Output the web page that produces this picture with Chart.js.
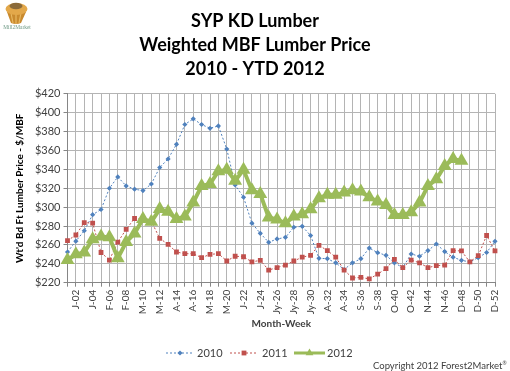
<!DOCTYPE html>
<html>
<head>
<meta charset="utf-8">
<title>SYP KD Lumber</title>
<script src="https://cdn.jsdelivr.net/npm/chart.js@4/dist/chart.umd.js"></script>
<style>
    html, body { margin: 0; padding: 0; background: #fff; }
    #wrap { position: relative; width: 510px; height: 371px; overflow: hidden; }
    #chart { display: block; }
    #logo { position: absolute; left: 0; top: 0; }
    #copyright { position: absolute; left: 373px; top: 360px; font: 9.5px Lato, sans-serif; color: #404040; white-space: nowrap; }
    #copyright sup { font-size: 5px; line-height: 0; }
</style>
</head>
<body>
<div id="wrap">
    <canvas id="chart" width="510" height="371"></canvas>
    <svg id="logo" width="36" height="34" viewBox="0 0 36 34">
        <path d="M7 12 L11 23 Q16 25 21 23 L26 12 Z" fill="#c98a2e"/>
        <path d="M11 13 L13 23 M16 13 L16 24 M21 13 L19 23" stroke="#e8b860" stroke-width="1.2"/>
        <ellipse cx="16.5" cy="9" rx="11" ry="6" fill="#e3a84a"/>
        <ellipse cx="16" cy="6" rx="6.5" ry="3.2" fill="#8a6a3a"/>
        <text x="17" y="29" text-anchor="middle" font-family="Liberation Serif, serif" font-size="5.4" fill="#6f9a86">Mill2Market</text>
    </svg>
    <div id="copyright">Copyright 2012 Forest2Market<sup>®</sup></div>
</div>
<script>
const categories = [
    'J-01', 'J-02', 'J-03', 'J-04', 'F-05', 'F-06', 'F-07', 'F-08', 'M-09', 'M-10', 'M-11', 'M-12', 'A-13',
    'A-14', 'A-15', 'A-16', 'M-17', 'M-18', 'M-19', 'M-20', 'J-21', 'J-22', 'J-23', 'J-24', 'Jy-25', 'Jy-26',
    'Jy-27', 'Jy-28', 'Jy-29', 'Jy-30', 'A-31', 'A-32', 'A-33', 'A-34', 'S-35', 'S-36', 'S-37', 'S-38', 'O-39',
    'O-40', 'O-41', 'O-42', 'N-43', 'N-44', 'N-45', 'N-46', 'D-47', 'D-48', 'D-49', 'D-50', 'D-51', 'D-52'
];
const values2010 = [
    252.5, 264, 275, 292, 297.5, 320, 332, 322.5, 319, 317.5, 324.5, 342, 351,
    366.5, 387.5, 393.5, 387.5, 383.5, 386, 361.5, 323.5, 310.5, 283, 272.3, 262.8, 266.3,
    268, 278.7, 279.7, 270, 245.8, 245.4, 241, 234, 241, 245.4, 256.7, 251.8, 249,
    241, 236, 250.4, 248, 254, 261, 253, 247, 243.7, 242, 246.5, 252, 263.8
];
const values2011 = [
    264.5, 270.5, 283.6, 283, 252, 244, 263, 276.5, 288, 288, 285, 267, 260.5,
    252.5, 250.7, 250.7, 246.5, 250, 250.7, 243, 248, 247.5, 242, 243.7, 233.4, 236,
    238.7, 243, 247, 249, 259.6, 254, 247, 233.4, 225, 225.6, 224, 229, 235,
    244.7, 236, 244, 241, 236, 238, 238.7, 254, 253.6, 242, 248.6, 270, 253.6
];
const values2012 = [
    244, 250, 252, 266, 269, 268, 246, 263, 272, 287.5, 284.5, 298, 295,
    287.5, 290, 305, 322.5, 324.5, 338, 339.5, 328, 339.5, 318, 314, 289, 287,
    283, 290, 292.5, 297.7, 309.4, 313, 313, 315.4, 318, 316.5, 310.5, 305.9, 302.3,
    291.7, 291.7, 294.5, 304.8, 322.5, 329.5, 343.7, 351, 349
];
const titleLines = ['SYP KD Lumber', 'Weighted MBF Lumber Price', '2010 - YTD 2012'];
const legendSlots = [
    { lineFrom: 166, lineTo: 194, textX: 197, markerRadius: 2.6, lineWidth: 1 },
    { lineFrom: 230, lineTo: 258, textX: 262, markerRadius: 3.4, lineWidth: 1 },
    { lineFrom: 294, lineTo: 325, textX: 327, markerRadius: 4.5, lineWidth: 3 }
];
const textColor = '#404040';
const fontFamily = 'Lato, sans-serif';

// legend with a line through the marker, like the office chart one
const lineLegend = {
    id: 'lineLegend',
    afterDraw(chart) {
        const ctx = chart.ctx;
        const y = 353;
        chart.data.datasets.forEach((ds, i) => {
            const slot = legendSlots[i];
            ctx.save();
            ctx.strokeStyle = ds.borderColor;
            ctx.lineWidth = slot.lineWidth;
            ctx.setLineDash(ds.borderDash || []);
            ctx.beginPath();
            ctx.moveTo(slot.lineFrom, y);
            ctx.lineTo(slot.lineTo, y);
            ctx.stroke();
            ctx.setLineDash([]);
            ctx.fillStyle = ds.pointBackgroundColor;
            ctx.strokeStyle = ds.pointBackgroundColor;
            Chart.helpers.drawPoint(ctx, {
                pointStyle: ds.pointStyle,
                radius: slot.markerRadius,
                rotation: 0,
                borderWidth: 0
            }, (slot.lineFrom + slot.lineTo) / 2, y);
            ctx.fillStyle = textColor;
            ctx.font = `11px ${fontFamily}`;
            ctx.textAlign = 'left';
            ctx.textBaseline = 'middle';
            ctx.fillText(ds.label, slot.textX, y);
            ctx.restore();
        });
    }
};

// title is centred on the whole picture, not on the padded box
const fullWidthTitle = {
    id: 'fullWidthTitle',
    afterLayout(chart) {
        chart.titleBlock.left = 0;
        chart.titleBlock.right = chart.width;
    }
};

new Chart(document.getElementById('chart'), {
    type: 'line',
    data: {
        labels: categories,
        datasets: [
            {
                label: '2010',
                data: values2010,
                order: 3,
                borderColor: '#4f81bd',
                borderWidth: 1,
                borderDash: [2, 2],
                pointStyle: 'rectRot',
                pointRadius: 2.6,
                pointBackgroundColor: '#4f81bd',
                pointBorderWidth: 0,
                tension: 0
            },
            {
                label: '2011',
                data: values2011,
                order: 2,
                borderColor: '#c0504d',
                borderWidth: 1,
                borderDash: [2, 2],
                pointStyle: 'rect',
                pointRadius: 3.4,
                pointBackgroundColor: '#c0504d',
                pointBorderWidth: 0,
                tension: 0
            },
            {
                label: '2012',
                data: values2012,
                order: 1,
                borderColor: '#9bbb59',
                borderWidth: 4,
                pointStyle: 'triangle',
                pointRadius: 8,
                pointBackgroundColor: '#9bbb59',
                pointBorderWidth: 0,
                tension: 0
            }
        ]
    },
    options: {
        responsive: false,
        animation: false,
        layout: { padding: { left: 0, right: 11.5, top: 9, bottom: 0 } },
        plugins: {
            legend: { display: false },
            tooltip: { enabled: false },
            title: {
                display: true,
                text: titleLines,
                color: '#000',
                font: { family: fontFamily, size: 18, weight: 'bold', lineHeight: 1.33 },
                padding: { top: 0, bottom: 13 }
            }
        },
        scales: {
            x: {
                offset: false,
                afterFit(scale) { scale.height = 88.3; },
                grid: { color: '#b4b4b4', lineWidth: 1, tickLength: 4, tickColor: '#868686' },
                border: { color: '#868686' },
                ticks: {
                    autoSkip: false,
                    maxRotation: 90,
                    minRotation: 90,
                    padding: 3,
                    color: textColor,
                    font: { family: fontFamily, size: 10 },
                    callback(value, index) { return index % 2 === 1 ? categories[index] : ''; }
                },
                title: {
                    display: true,
                    text: 'Month-Week',
                    color: textColor,
                    font: { family: fontFamily, size: 10, weight: 'bold' },
                    padding: { top: 0, bottom: 41 }
                }
            },
            y: {
                min: 220,
                max: 420,
                afterFit(scale) { scale.width = 67.5; },
                grid: { color: '#b4b4b4', lineWidth: 1, tickLength: 4, tickColor: '#868686' },
                border: { color: '#868686' },
                ticks: {
                    stepSize: 20,
                    padding: 3,
                    color: textColor,
                    font: { family: fontFamily, size: 11 },
                    callback: (value) => `$${value}`
                },
                title: {
                    display: true,
                    text: "Wt'd Bd Ft Lumber Price - $/MBF",
                    color: '#000',
                    font: { family: fontFamily, size: 10, weight: 'bold' },
                    padding: { top: 14, bottom: 0 }
                }
            }
        }
    },
    plugins: [lineLegend, fullWidthTitle]
});
</script>
</body>
</html>
